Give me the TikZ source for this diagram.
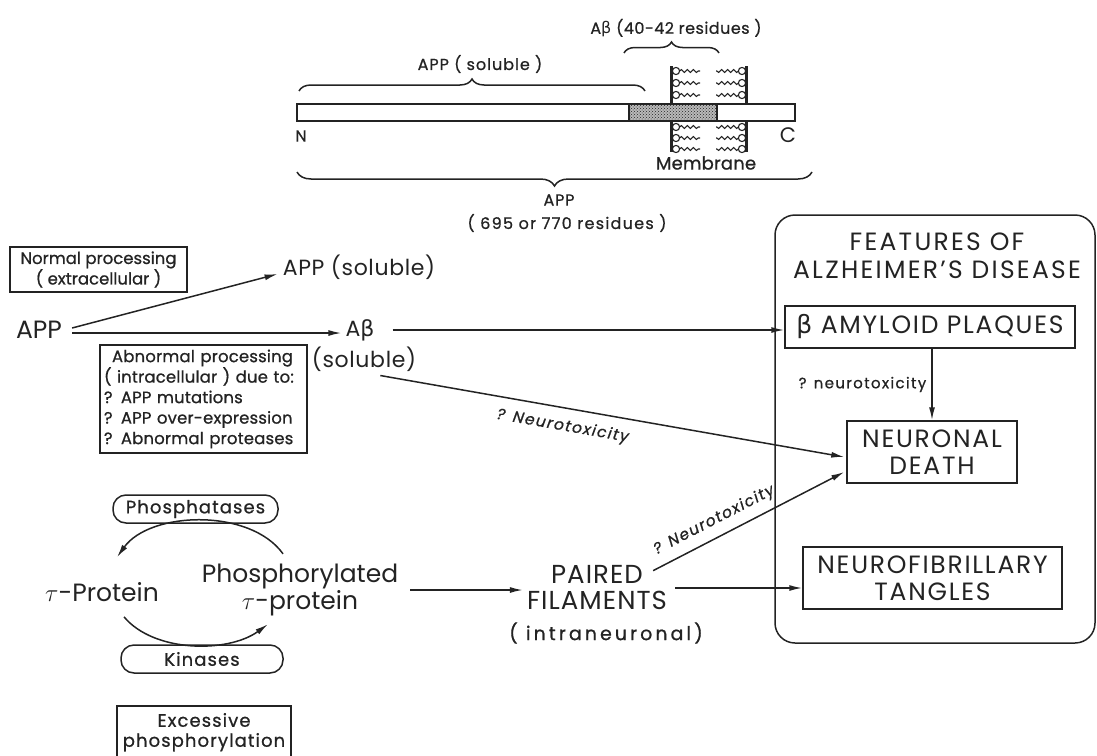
\documentclass[tikz,border=0pt]{standalone}
\usepackage{fontspec}
\setmainfont{Poppins}
\newfontfamily\grk{DejaVu Sans}
\usetikzlibrary{arrows.meta,decorations.pathreplacing,decorations.pathmorphing,patterns,calc}
\definecolor{ink}{HTML}{232323}
\newcommand\myfnt[3]{\fontsize{#1}{#2}\selectfont\addfontfeature{LetterSpace=#3}}
\newcommand\myfntb[3]{\fontsize{#1}{#2}\selectfont\addfontfeature{LetterSpace=#3,FakeBold=0.8}}
\begin{document}
\begin{tikzpicture}[x=1pt,y=-1pt,
  ln/.style={draw=ink,line width=1.5pt},
  arr/.style={ln,-{Latex[length=13pt,width=6pt]}},
  tx/.style={text=ink,inner sep=0pt},
  fcap/.style={tx,font=\myfnt{25}{27}{7}},
  fbig/.style={tx,font=\myfnt{25}{27}{0}},
  fmid/.style={tx,font=\myfnt{22}{24}{3}},
  fsm/.style={tx,font=\myfntb{16.5}{20.5}{#1}},
  fen/.style={tx,font=\myfntb{18}{20}{6}},
  ftop/.style={tx,font=\myfntb{16}{18}{#1}},
  flab/.style={tx,font=\myfntb{15.5}{16}{9}\itshape},
  boxed/.style={draw=ink,line width=1.5pt,rectangle},
  pill/.style={draw=ink,line width=1.5pt,rounded corners=13pt},
  lip/.style={draw=ink,line width=1.1pt},
  wig/.style={lip,decorate,decoration={snake,amplitude=1.4pt,segment length=6pt}},
  brc/.style={ln,decorate,decoration={brace,amplitude=#1}}
]
\useasboundingbox (0,0) rectangle (1097,755);

% ---------- top: APP molecule ----------
\node[ftop=3] (abres) at (676,28) {A{\grk β} (40-42 residues )};
\node[ftop=6] (appsoltop) at (480,64) {APP ( soluble )};
\draw[brc=11pt] (624,53) -- (719,53);
\draw[brc=12pt] (299,91) -- (645,91);

\fill[gray!55] (629,104) rectangle (717,121);
\fill[pattern=crosshatch dots,pattern color=ink] (629,104) rectangle (717,121);
\draw[ln] (297,104) rectangle (795,121);
\draw[ln] (629,104) -- (629,121) (717,104) -- (717,121);

\foreach \yy in {71,83,95,127,138,149}{
  \draw[wig] (679.5,\yy) -- (700,\yy);
  \draw[wig] (738.5,\yy) -- (716,\yy);
  \draw[lip,fill=white] (676,\yy) circle (3.6);
  \draw[lip,fill=white] (742,\yy) circle (3.6);
}
\draw[ink,line width=3pt] (671.5,66) -- (671.5,104) (746.5,66) -- (746.5,104)
  (671.5,121) -- (671.5,152) (746.5,121) -- (746.5,152);

\node[ftop=0] (nlab) at (301,136) {N};
\node[tx,font=\myfnt{21}{22}{0}] (clab) at (788,135) {C};
\node[tx,font=\myfntb{18}{20}{1}] (mem) at (706,163) {Membrane};
\draw[brc=14pt] (812,172) -- (297,172);
\node[ftop=5] (apptot) at (559,200) {APP};
\node[ftop=8] (resid) at (567,223) {( 695 or 770 residues )};

% ---------- middle ----------
\node[boxed,fsm=0,align=center,minimum width=177,minimum height=45] (normal) at (98.5,269.5) {Normal processing\\( extracellular )};
\node[fbig] (app) at (39,330) {APP};
\node[fmid] (apps) at (359,267) {APP (soluble)};
\node[fmid] (ab) at (360,330) {A{\grk β}};
\node[fmid] (abs) at (364,359) {(soluble)};
\node[boxed,fsm=1,align=left,minimum width=207,minimum height=108,text width=199,inner sep=0pt] (abn) at (203.5,399)
  {\hspace*{8pt}Abnormal processing\\( intracellular ) due to:\\? APP mutations\\? APP over-expression\\? Abnormal proteases};

% ---------- right box ----------
\node[draw=ink,line width=1.5pt,rounded corners=20pt,minimum width=320,minimum height=428] (feat) at (935,429) {};
\node[tx,font=\myfnt{25}{28}{9},align=center] (title) at (937,256) {FEATURES OF\\ALZHEIMER'S DISEASE};
\node[boxed,fcap,minimum width=290,minimum height=42] (plaq) at (930,327) {{\grk β} AMYLOID PLAQUES};
\node[boxed,fcap,align=center,minimum width=170,minimum height=62] (neur) at (932,452) {NEURONAL\\DEATH};
\node[boxed,fcap,align=center,minimum width=259,minimum height=62] (tang) at (932.5,578) {NEUROFIBRILLARY\\TANGLES};

% ---------- bottom left ----------
\node[fbig] (tau) at (102,592) {$\tau$-Protein};
\node[fbig,align=center] (phos) at (300,590) {Phosphorylated\\$\tau$-protein};
\node[pill,fen,minimum width=165,minimum height=28] (ptase) at (195.5,509) {Phosphatases};
\node[pill,fen,minimum width=162,minimum height=28] (kin) at (202,659) {Kinases};
\node[boxed,fen,align=center,minimum width=174,minimum height=53,anchor=north] (exc) at (204,705) {Excessive\\phosphorylation};

\node[tx,font=\myfnt{26}{26}{4},align=center] (pf) at (597,588) {PAIRED\\FILAMENTS};
\node[tx,font=\myfntb{19}{20}{16}] (intra) at (606,633) {( intraneuronal)};

% ---------- connectors ----------
\draw[arr] ($(app.east)+(10,-2)$) -- ($(apps.west)+(-5,7)$);
\draw[arr] ($(app.east)+(10,3)$) -- ($(ab.west)+(-4,3)$);
\draw[arr] ($(ab.east)+(18,0)$) -- (plaq.west |- ab.east);
\draw[arr] ($(abs.south east)+(-36,4)$) -- node[flab,pos=0.4,sloped,below=10pt] {? Neurotoxicity} ($(neur.west)+(-2,5)$);
\draw[arr] (plaq.south -| neur.north) -- node[tx,font=\myfntb{15}{16}{9},left=5pt] {? neurotoxicity} (neur.north);
\draw[arr] ($(pf.north east)+(-14,5)$) -- node[flab,pos=0.36,sloped,above=8pt] {? Neurotoxicity} ($(neur.west)+(-2,20)$);
\draw[arr] ($(pf.east)+(8,0)$) -- (tang.west |- pf.east);
\draw[arr] ($(phos.east)+(12,0)$) -- ($(pf.west |- phos.east)+(-4,0)$);
\draw[arr] ($(phos.north)+(-17,-10)$) .. controls +(-33,-46) and +(33,-46) .. ($(tau.north)+(15,-25)$);
\draw[arr] ($(tau.south)+(22,15)$) .. controls +(30,36) and +(-40,29) .. ($(phos.south)+(-32,8)$);
\end{tikzpicture}
\end{document}
